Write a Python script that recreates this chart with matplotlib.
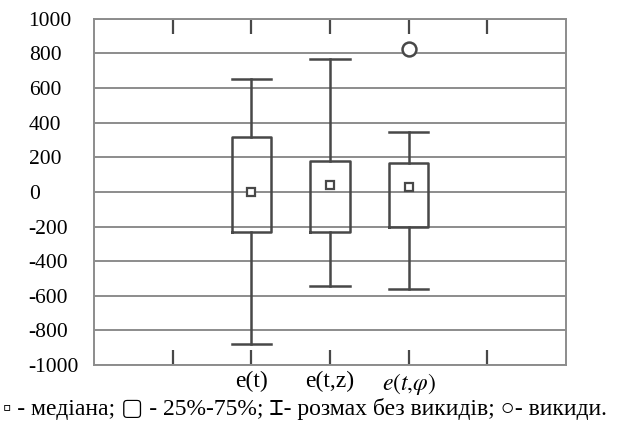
import matplotlib
matplotlib.use("Agg")
import matplotlib.pyplot as plt

plt.rcParams['font.family'] = ['Liberation Serif', 'DejaVu Sans']
plt.rcParams['mathtext.fontset'] = 'stix'
plt.rcParams['axes.unicode_minus'] = False

labels = ["e(t)", "e(t,z)", r"$e(t{,}\varphi)$"]
positions = [2, 3, 4]
whislo = [-880, -545, -560]
q1 = [-230, -230, -200]
med = [0, 40, 30]
q3 = [320, 180, 170]
whishi = [650, 770, 345]
fliers = [[], [], [825]]

stats = []
for i in range(3):
    stats.append(dict(label=labels[i], whislo=whislo[i], q1=q1[i], med=med[i],
                      q3=q3[i], whishi=whishi[i], fliers=fliers[i]))

fig = plt.figure(figsize=(6.18, 4.28), dpi=100)
ax = fig.add_axes([0.152, 0.147, 0.764, 0.809])

gray = "#484848"
ax.bxp(stats, positions=positions, widths=0.5, showfliers=True,
       boxprops=dict(color=gray, linewidth=1.8),
       whiskerprops=dict(color=gray, linewidth=1.8),
       capprops=dict(color=gray, linewidth=1.8),
       medianprops=dict(linewidth=0),
       flierprops=dict(marker='o', markersize=10, markerfacecolor='white',
                       markeredgecolor=gray, markeredgewidth=1.8),
       capwidths=0.5, zorder=3)
ax.plot(positions, med, linestyle='none', marker='s', markersize=6,
        markerfacecolor='white', markeredgecolor=gray, markeredgewidth=1.6, zorder=4)

ax.set_xlim(0, 6)
ax.set_ylim(-1000, 1000)
ax.set_yticks(range(-1000, 1001, 200))
ax.yaxis.grid(True, color="#8c8c8c", linewidth=1.4)
ax.set_axisbelow(True)
ax.set_xticks([1, 2, 3, 4, 5])
ax.set_xticklabels(["", labels[0], labels[1], labels[2], ""], fontsize=17)
ax.tick_params(axis='x', direction='in', top=True, length=11, width=1.6, color=gray, pad=4)
ax.tick_params(axis='y', length=0, labelsize=15.5)
for lab in ax.get_yticklabels():
    lab.set_horizontalalignment('left')
ax.yaxis.set_tick_params(pad=47)
for s in ax.spines.values():
    s.set_color("#8c8c8c")
    s.set_linewidth(1.4)

fig.text(0.005, 0.045, "▫ - медіана; ▢ - 25%-75%; ⌶- розмах без викидів; ○- викиди.",
         fontsize=17, ha='left', va='center',
         family=['Liberation Serif', 'DejaVu Serif', 'DejaVu Sans Mono', 'Noto Sans', 'DejaVu Sans'])

fig.savefig("out.png", dpi=100)
